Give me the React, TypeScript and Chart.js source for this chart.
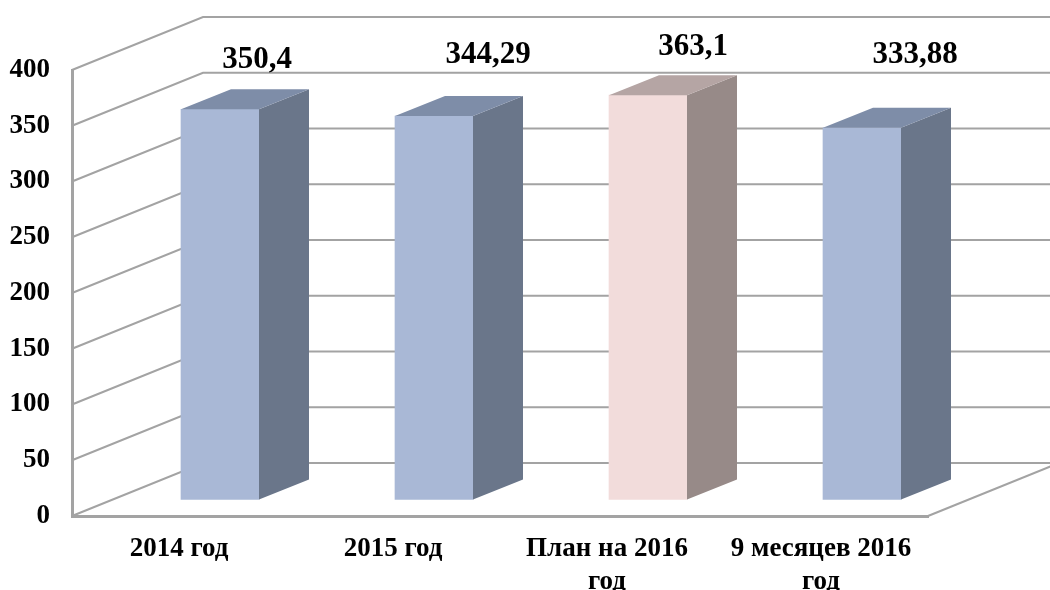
import React, { useEffect, useRef } from "react";
import { Chart, registerables } from "chart.js";

Chart.register(...registerables);

const categories = [["2014 год"], ["2015 год"], ["План на 2016", "год"], ["9 месяцев 2016", "год"]];
const values = [350.4, 344.29, 363.1, 333.88];
const frontColors = ["#A9B8D6", "#A9B8D6", "#F2DCDB", "#A9B8D6"];
const sideColors = ["#6A768A", "#6A768A", "#978A88", "#6A768A"];
const topColors = ["#7E8DA8", "#7E8DA8", "#B5A5A4", "#7E8DA8"];
const labelNudges = [[37, -49], [54, -61], [45, -48], [53, -73]];

const FONT = '"Liberation Serif", serif';
const GRID = "#A3A3A3";
const WALL_DX = 131;
const WALL_DY = -53;
const BAR_DX = 41;
const BAR_DY = -16;
const DEPTH_DX = 50;
const DEPTH_DY = -20;

const walls = {
  id: "walls",
  beforeDatasetsDraw(chart: any) {
    const { ctx, scales } = chart;
    const y = scales.y;
    const x0 = scales.x.left;
    const x1 = scales.x.right;
    ctx.save();
    ctx.strokeStyle = GRID;
    ctx.lineWidth = 2;
    for (const t of y.ticks) {
      const py = y.getPixelForValue(t.value);
      ctx.beginPath();
      ctx.moveTo(x0, py);
      ctx.lineTo(x0 + WALL_DX, py + WALL_DY);
      ctx.lineTo(x1 + WALL_DX, py + WALL_DY);
      ctx.stroke();
    }
    const base = y.getPixelForValue(0);
    ctx.beginPath();
    ctx.moveTo(x1, base);
    ctx.lineTo(x1 + WALL_DX, base + WALL_DY);
    ctx.stroke();
    ctx.restore();
  },
};

const bars3d = {
  id: "bars3d",
  beforeDatasetDraw(chart: any) {
    chart.ctx.save();
    chart.ctx.translate(BAR_DX, BAR_DY);
  },
  afterDatasetDraw(chart: any, args: any) {
    const { ctx } = chart;
    const meta = chart.getDatasetMeta(args.index);
    meta.data.forEach((bar: any, i: number) => {
      const r = bar.x + bar.width / 2;
      const l = bar.x - bar.width / 2;
      ctx.fillStyle = sideColors[i];
      ctx.beginPath();
      ctx.moveTo(r, bar.y);
      ctx.lineTo(r + DEPTH_DX, bar.y + DEPTH_DY);
      ctx.lineTo(r + DEPTH_DX, bar.base + DEPTH_DY);
      ctx.lineTo(r, bar.base);
      ctx.closePath();
      ctx.fill();
      ctx.fillStyle = topColors[i];
      ctx.beginPath();
      ctx.moveTo(l, bar.y);
      ctx.lineTo(l + DEPTH_DX, bar.y + DEPTH_DY);
      ctx.lineTo(r + DEPTH_DX, bar.y + DEPTH_DY);
      ctx.lineTo(r, bar.y);
      ctx.closePath();
      ctx.fill();
    });
    ctx.restore();
    ctx.save();
    ctx.fillStyle = "#000";
    ctx.font = `bold 31px ${FONT}`;
    ctx.textAlign = "center";
    ctx.textBaseline = "middle";
    meta.data.forEach((bar: any, i: number) => {
      const text = String(values[i]).replace(".", ",");
      ctx.fillText(text, bar.x + BAR_DX + labelNudges[i][0], bar.y + BAR_DY + labelNudges[i][1]);
    });
    ctx.restore();
  },
};

export default function App() {
  const ref = useRef<HTMLCanvasElement>(null);
  useEffect(() => {
    const chart = new Chart(ref.current as HTMLCanvasElement, {
      type: "bar",
      data: {
        labels: categories,
        datasets: [
          {
            data: values,
            backgroundColor: frontColors,
            barThickness: 78,
            clip: false,
          } as any,
        ],
      },
      options: {
        animation: false,
        responsive: false,
        layout: { padding: { top: 70, right: 122, left: 0, bottom: 0 } },
        plugins: { legend: { display: false }, tooltip: { enabled: false } },
        scales: {
          x: {
            afterFit: (s: any) => {
              s.height = 74;
            },
            grid: { display: true, drawOnChartArea: false, drawTicks: false },
            border: { display: true, color: GRID, width: 3 },
            ticks: {
              autoSkip: false,
              maxRotation: 0,
              minRotation: 0,
              padding: 16,
              color: "#000",
              font: { family: FONT, weight: "bold", size: 27, lineHeight: 1.24 },
            },
          },
          y: {
            min: 0,
            max: 400,
            afterFit: (s: any) => {
              s.width = 72;
            },
            grid: { display: true, drawOnChartArea: false, drawTicks: false },
            border: { display: true, color: GRID, width: 3 },
            ticks: {
              stepSize: 50,
              padding: 22,
              color: "#000",
              font: { family: FONT, weight: "bold", size: 27 },
            },
          },
        },
      },
      plugins: [walls, bars3d],
    } as any);
    return () => chart.destroy();
  }, []);
  return (
    <div style={{ position: "absolute", left: 0, top: 0, width: 1050, height: 590, background: "#fff" }}>
      <canvas ref={ref} width={1050} height={590} style={{ display: "block", filter: "blur(0.5px)" }} />
    </div>
  );
}
